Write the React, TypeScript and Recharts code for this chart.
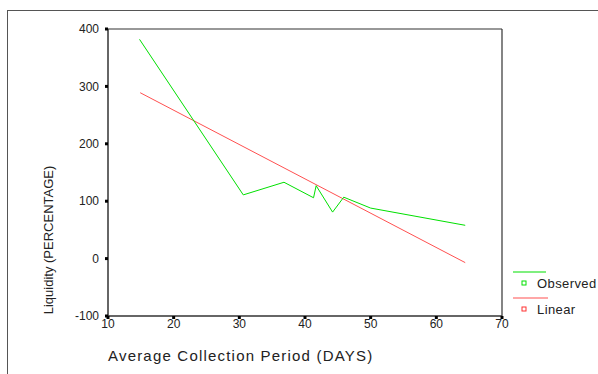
import React from 'react';
import { LineChart, Line, XAxis, YAxis, ReferenceLine } from 'recharts';

// Observed: average collection period (days) vs liquidity (%)
const observedDays = [14.8, 30.6, 36.8, 41.3, 41.7, 44.2, 45.9, 50.0, 64.4];
const observedLiquidity = [382, 111, 133, 106, 127, 81, 107, 88, 58];

// Linear fit endpoints
const linearDays = [14.9, 64.4];
const linearLiquidity = [289, -7];

const xTicks = [10, 20, 30, 40, 50, 60, 70];
const yTicks = [-100, 0, 100, 200, 300, 400];

const observedData = observedDays.map((d, i) => ({ days: d, observed: observedLiquidity[i] }));
const linearData = linearDays.map((d, i) => ({ days: d, linear: linearLiquidity[i] }));

const FONT = 'Arial, "Liberation Sans", sans-serif';
const AXIS = '#333';

const YLabel = ({ viewBox }: any) => {
  const x = viewBox.x - 18;
  const y = 240;
  return (
    <text x={x} y={y} transform={`rotate(-90 ${x} ${y})`} textAnchor="middle" dominantBaseline="middle"
      fontFamily={FONT} fontSize={13} fill="#222">
      Liquidity (PERCENTAGE)
    </text>
  );
};

const XLabel = ({ viewBox }: any) => (
  <text x={viewBox.x} y={viewBox.y + 45} fontFamily={FONT} fontSize={15} letterSpacing={1.2} fill="#222">
    Average Collection Period (DAYS)
  </text>
);

const ChartLegend = () => (
  <svg width={85} height={50} style={{ position: 'absolute', left: 513, top: 271, overflow: 'visible' }}>
    <line x1={0} y1={1} x2={33} y2={1} stroke="#00e000" strokeWidth={1.2} />
    <rect x={9} y={10} width={4} height={4} fill="none" stroke="#00e000" strokeWidth={1} />
    <text x={24} y={17} fontFamily={FONT} fontSize={13} letterSpacing={0.4} fill="#222">Observed</text>
    <line x1={0} y1={27} x2={35} y2={27} stroke="#ff5050" strokeWidth={1.2} />
    <rect x={9} y={36} width={4} height={4} fill="none" stroke="#ff3030" strokeWidth={1} />
    <text x={24} y={43} fontFamily={FONT} fontSize={13} letterSpacing={0.4} fill="#222">Linear</text>
  </svg>
);

export default function App() {
  return (
    <div style={{ position: 'absolute', left: 0, top: 0, width: 598, height: 374, background: '#fff' }}>
      <div style={{ position: 'absolute', left: 7, top: 10, width: 591, height: 364,
        borderLeft: '1.5px solid #555', borderTop: '1.5px solid #555' }} />
      <LineChart width={598} height={374} margin={{ top: 29, right: 96, bottom: 28, left: 68 }}
        style={{ position: 'absolute', left: 0, top: 0 }}>
        <XAxis type="number" dataKey="days" domain={[10, 70]} ticks={xTicks} allowDuplicatedCategory={false}
          height={30} tickSize={3} tickLine={{ stroke: '#000', strokeWidth: 3 }}
          axisLine={{ stroke: AXIS, strokeWidth: 1.5 }}
          tick={{ fontFamily: FONT, fontSize: 12, fill: '#222' }} tickMargin={0}
          label={<XLabel />} />
        <YAxis type="number" domain={[-100, 400]} ticks={yTicks} width={40} tickSize={3}
          tickLine={{ stroke: '#000', strokeWidth: 3 }} axisLine={{ stroke: AXIS, strokeWidth: 1.5 }}
          tick={{ fontFamily: FONT, fontSize: 12, fill: '#222' }} tickMargin={6}
          label={<YLabel />} />
        <ReferenceLine y={400} stroke={AXIS} strokeWidth={1.2} />
        <ReferenceLine x={70} stroke={AXIS} strokeWidth={1.2} />
        <Line data={linearData} dataKey="linear" stroke="#ff5050" strokeWidth={1} dot={false}
          isAnimationActive={false} />
        <Line data={observedData} dataKey="observed" stroke="#00e000" strokeWidth={1} dot={false}
          isAnimationActive={false} />
      </LineChart>
      <ChartLegend />
    </div>
  );
}
